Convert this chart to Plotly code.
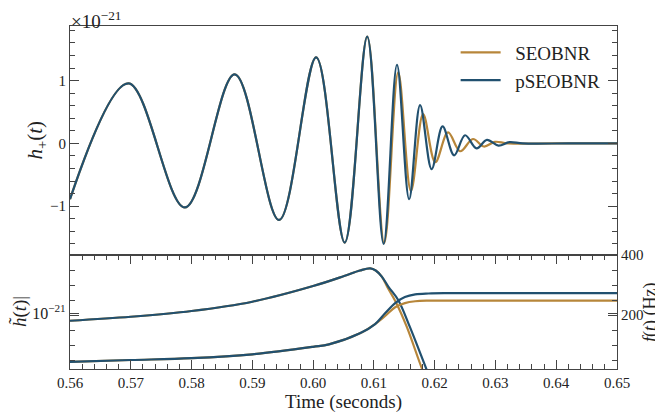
import plotly.graph_objects as go

# ---------------- data ----------------
# strain h+(t) in units of 1e-21 : start value, then successive extrema, then the flat tail
t_seob = [0.5600, 0.5696, 0.5789, 0.5871, 0.5944, 0.6005, 0.6052, 0.6089, 0.6117, 0.6140,
          0.6161, 0.6181, 0.6201, 0.6222, 0.6242, 0.6263, 0.6281, 0.6299, 0.6320, 0.6400,
          0.6500]
h_seob = [-0.89, 0.955, -1.02, 1.10, -1.22, 1.37, -1.58, 1.70, -1.59, 1.13,
          -0.76, 0.465, -0.30, 0.175, -0.125, 0.07, -0.05, 0.025, 0.0, 0.0,
          0.0]

t_pseob = [0.5600, 0.5696, 0.5789, 0.5871, 0.5944, 0.6005, 0.6052, 0.6089, 0.6116, 0.6138,
           0.6158, 0.6176, 0.6195, 0.6213, 0.6232, 0.6250, 0.6269, 0.6286, 0.6305, 0.6323,
           0.6345, 0.6420, 0.6500]
h_pseob = [-0.89, 0.955, -1.02, 1.10, -1.22, 1.37, -1.58, 1.70, -1.60, 1.25,
           -0.89, 0.61, -0.41, 0.27, -0.19, 0.13, -0.08, 0.057, -0.035, 0.02,
           0.0, 0.0, 0.0]

# amplitude |h(t)| in units of 1e-21
ta_seob = [0.5600, 0.5700, 0.5800, 0.5900, 0.6000, 0.6051, 0.6077, 0.6094, 0.6103, 0.6113,
           0.6123, 0.6136, 0.6154, 0.6180, 0.6196]
a_seob = [0.913, 0.957, 1.024, 1.143, 1.375, 1.548, 1.652, 1.695, 1.652, 1.538,
          1.343, 1.139, 0.851, 0.510, 0.389]
ta_pseob = [0.5600, 0.5700, 0.5800, 0.5900, 0.6000, 0.6051, 0.6077, 0.6094, 0.6103, 0.6113,
            0.6124, 0.6140, 0.6159, 0.6187, 0.6202]
a_pseob = [0.913, 0.957, 1.024, 1.143, 1.375, 1.548, 1.652, 1.695, 1.652, 1.538,
           1.364, 1.166, 0.851, 0.510, 0.389]

# frequency f(t) in Hz
tf_seob = [0.5600, 0.5700, 0.5800, 0.5900, 0.6000, 0.6026, 0.6077, 0.6102, 0.6118, 0.6135,
           0.6151, 0.6168, 0.6190, 0.6300, 0.6500]
f_seob = [44, 50, 56, 69, 94, 102, 139, 170, 196, 226, 240, 246, 248, 248, 248]
tf_pseob = [0.5600, 0.5700, 0.5800, 0.5900, 0.6000, 0.6026, 0.6077, 0.6102, 0.6118, 0.6135,
            0.6151, 0.6168, 0.6190, 0.6220, 0.6300, 0.6500]
f_pseob = [44, 50, 56, 69, 94, 102, 139, 170, 205, 240, 260, 269, 272, 273, 273, 273]

names = ["SEOBNR", "pSEOBNR"]
x_ticks = [0.56, 0.57, 0.58, 0.59, 0.60, 0.61, 0.62, 0.63, 0.64, 0.65]
x_ticklabels = ["0.56", "0.57", "0.58", "0.59", "0.60", "0.61", "0.62", "0.63", "0.64", "0.65"]
h_ticks = [-1, 0, 1]
h_ticklabels = ["\u22121", "0", "1"]
f_ticks = [200, 400]
f_ticklabels = ["200", "400"]

# ---------------- styling ----------------
GOLD = "#b7863a"
BLUE = "#21506f"
AX = "#444444"
FONT = "Liberation Serif, DejaVu Serif, serif"
TXT = "#222222"
LW = 2.2

fig = go.Figure()
fig.add_trace(go.Scatter(x=t_seob, y=h_seob, name="\u00a0\u00a0" + names[0], mode="lines",
                         line=dict(color=GOLD, width=LW, shape="spline", smoothing=1.0),
                         xaxis="x", yaxis="y"))
fig.add_trace(go.Scatter(x=t_pseob, y=h_pseob, name="\u00a0\u00a0" + names[1], mode="lines",
                         line=dict(color=BLUE, width=LW, shape="spline", smoothing=1.0),
                         xaxis="x", yaxis="y"))

fig.add_trace(go.Scatter(x=ta_seob, y=[a * 1e-21 for a in a_seob], mode="lines", showlegend=False,
                         line=dict(color=GOLD, width=LW, shape="spline"), xaxis="x2", yaxis="y2"))
fig.add_trace(go.Scatter(x=tf_seob, y=f_seob, mode="lines", showlegend=False,
                         line=dict(color=GOLD, width=LW, shape="spline"), xaxis="x2", yaxis="y3"))
fig.add_trace(go.Scatter(x=ta_pseob, y=[a * 1e-21 for a in a_pseob], mode="lines", showlegend=False,
                         line=dict(color=BLUE, width=LW, shape="spline"), xaxis="x2", yaxis="y2"))
fig.add_trace(go.Scatter(x=tf_pseob, y=f_pseob, mode="lines", showlegend=False,
                         line=dict(color=BLUE, width=LW, shape="spline"), xaxis="x2", yaxis="y3"))

split = 0.332


def ax(size=15, **kw):
    d = dict(showline=True, linecolor=AX, linewidth=1.2, showgrid=False, zeroline=False,
             tickcolor=AX, tickfont=dict(family=FONT, size=size, color=TXT), automargin=False)
    d.update(kw)
    return d


# the page body adds an 8 px offset, so the figure is drawn 8 px smaller
fig.update_layout(
    width=655, height=404,
    margin=dict(l=62, r=46, t=18, b=43),
    paper_bgcolor="white", plot_bgcolor="white",
    font=dict(family=FONT, color=TXT),
    xaxis=ax(domain=[0, 1], anchor="y", range=[0.56, 0.65], matches="x2",
             showticklabels=False, ticks="", mirror=True),
    yaxis=ax(domain=[split, 1], anchor="x", range=[-1.78, 1.87],
             tickvals=h_ticks, ticktext=h_ticklabels, ticks="inside", ticklen=9, mirror="ticks",
             minor=dict(dtick=0.2, tick0=0, ticks="inside", ticklen=5, tickcolor=AX)),
    xaxis2=ax(domain=[0, 1], anchor="y2", range=[0.56, 0.65],
              tickvals=x_ticks, ticktext=x_ticklabels, ticks="inside", ticklen=9, mirror="ticks",
              minor=dict(dtick=0.002, tick0=0.56, ticks="inside", ticklen=5, tickcolor=AX)),
    yaxis2=ax(size=16, domain=[0, split], anchor="x2", type="log",
              range=[-21.287, -20.703], tickvals=[1e-21], ticktext=["10<sup>\u221221</sup>"],
              ticks="inside", ticklen=9, mirror="ticks"),
    yaxis3=ax(overlaying="y2", side="right", anchor="x2", range=[20, 400],
              tickvals=f_ticks, ticktext=f_ticklabels, ticks="inside", ticklen=9,
              mirror="ticks",
              minor=dict(dtick=50, tick0=0, ticks="inside", ticklen=5, tickcolor=AX)),
    legend=dict(x=0.705, y=0.978, xanchor="left", yanchor="top", bgcolor="rgba(0,0,0,0)",
                font=dict(family=FONT, size=19, color=TXT), tracegroupgap=0,
                itemwidth=40),
    annotations=[
        dict(text="\u00d710<sup>\u221221</sup>", xref="paper", yref="paper", x=0, y=1,
             xanchor="left", yanchor="bottom", showarrow=False, borderpad=0,
             font=dict(family=FONT, size=19, color=TXT), yshift=-7),
        dict(text="<i>h</i><sub>+</sub>(<i>t</i>)", xref="paper", yref="paper", x=0,
             y=(1 + split) / 2, xanchor="center", yanchor="middle", textangle=-90,
             showarrow=False, xshift=-34, font=dict(family=FONT, size=21, color=TXT)),
        dict(text="<i>h\u0303</i>(<i>t</i>)|", xref="paper", yref="paper", x=0,
             y=split / 2, xanchor="center", yanchor="middle", textangle=-90,
             showarrow=False, xshift=-50, font=dict(family=FONT, size=19, color=TXT)),
        dict(text="<i>f</i>(<i>t</i>) (Hz)", xref="paper", yref="paper", x=1, y=split / 2,
             xanchor="center", yanchor="middle", textangle=-90, showarrow=False, xshift=33,
             borderpad=0, font=dict(family=FONT, size=18, color=TXT)),
        dict(text="Time (seconds)", xref="paper", yref="paper", x=0.5, y=0,
             xanchor="center", yanchor="top", showarrow=False, yshift=-20,
             font=dict(family=FONT, size=19, color=TXT)),
    ],
)

fig.write_html("out.html")
